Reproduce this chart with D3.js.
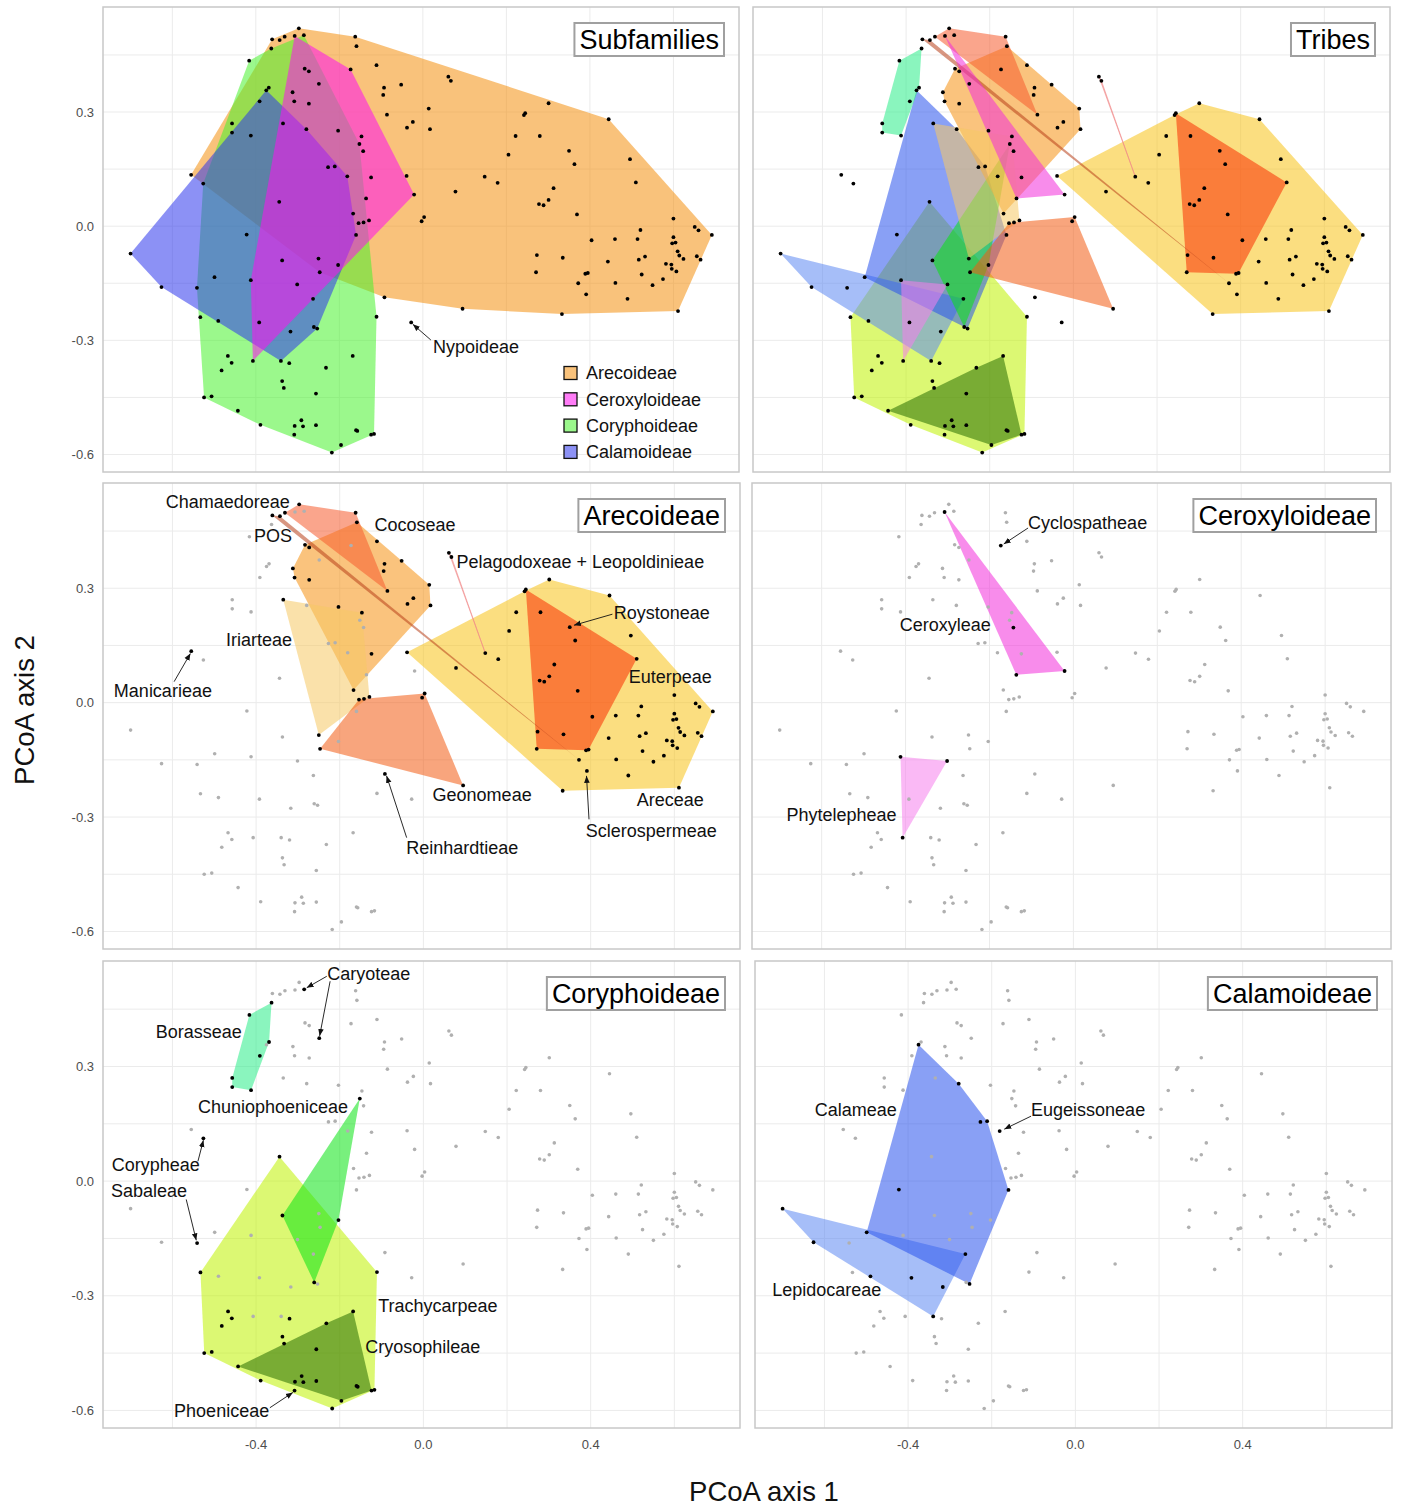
<!DOCTYPE html>
<html>
<head>
<meta charset="utf-8">
<script src="https://cdn.jsdelivr.net/npm/d3@7"></script>
<style>
body { margin: 0; background: #fff; }
text { font-family: "Liberation Sans", Arial, sans-serif; }
</style>
</head>
<body>
<div id="svg"></div>
<script>
var width = 1401;
var height = 1507;

// PCoA scores: [axis 1, axis 2, tribe]
var arecoideaePts = [
    [-0.331, 0.498, "Chamaedoreae"], [-0.297, 0.520, "Chamaedoreae"], [-0.162, 0.498, "Chamaedoreae"], [-0.086, 0.293, "Chamaedoreae"],
    [-0.361, 0.491, "POS"], [-0.343, 0.489, "POS"], [0.372, -0.150, "POS"],
    [-0.283, 0.414, "Cocoseae"], [-0.273, 0.407, "Cocoseae"], [-0.312, 0.352, "Cocoseae"], [-0.308, 0.328, "Cocoseae"],
    [-0.273, 0.322, "Cocoseae"], [-0.159, 0.473, "Cocoseae"], [-0.111, 0.423, "Cocoseae"], [-0.093, 0.364, "Cocoseae"],
    [-0.095, 0.345, "Cocoseae"], [-0.052, 0.372, "Cocoseae"], [-0.024, 0.274, "Cocoseae"], [-0.038, 0.259, "Cocoseae"],
    [0.014, 0.309, "Cocoseae"], [0.017, 0.255, "Cocoseae"], [-0.203, 0.251, "Cocoseae"], [-0.124, 0.128, "Cocoseae"],
    [-0.167, 0.033, "Cocoseae"],
    [-0.335, 0.270, "Iriarteae"], [-0.147, 0.236, "Iriarteae"], [-0.129, 0.015, "Iriarteae"], [-0.250, -0.085, "Iriarteae"],
    [-0.154, 0.008, "Geonomeae"], [-0.142, 0.010, "Geonomeae"], [-0.247, -0.121, "Geonomeae"], [-0.003, 0.013, "Geonomeae"],
    [0.003, 0.024, "Geonomeae"], [0.095, -0.217, "Geonomeae"],
    [-0.555, 0.135, "Manicarieae"],
    [-0.092, -0.187, "Reinhardtieae"],
    [0.061, 0.393, "Pelagodoxeae + Leopoldinieae"], [0.067, 0.382, "Pelagodoxeae + Leopoldinieae"], [0.148, 0.130, "Pelagodoxeae + Leopoldinieae"],
    [0.350, 0.198, "Roystoneae"],
    [0.391, -0.179, "Sclerospermeae"],
    [0.245, 0.297, "Euterpeae"], [0.280, 0.237, "Euterpeae"], [0.363, 0.163, "Euterpeae"], [0.510, 0.115, "Euterpeae"],
    [0.313, 0.100, "Euterpeae"], [0.278, 0.058, "Euterpeae"], [0.289, 0.055, "Euterpeae"], [0.301, 0.069, "Euterpeae"],
    [0.369, 0.031, "Euterpeae"], [0.404, -0.037, "Euterpeae"], [0.273, -0.076, "Euterpeae"], [0.271, -0.121, "Euterpeae"],
    [0.335, -0.083, "Euterpeae"], [0.389, -0.125, "Euterpeae"], [0.395, -0.123, "Euterpeae"],
    [-0.039, 0.132, "Areceae"], [0.301, 0.323, "Areceae"], [0.242, 0.292, "Areceae"], [0.222, 0.237, "Areceae"],
    [0.205, 0.188, "Areceae"], [0.445, 0.281, "Areceae"], [0.496, 0.176, "Areceae"], [0.179, 0.114, "Areceae"],
    [0.078, 0.091, "Areceae"], [0.600, 0.020, "Areceae"], [0.521, -0.010, "Areceae"], [0.651, -0.002, "Areceae"],
    [0.660, -0.011, "Areceae"], [0.692, -0.023, "Areceae"], [0.460, -0.034, "Areceae"], [0.514, -0.034, "Areceae"],
    [0.600, -0.029, "Areceae"], [0.597, -0.045, "Areceae"], [0.605, -0.043, "Areceae"], [0.610, -0.066, "Areceae"],
    [0.614, -0.077, "Areceae"], [0.624, -0.086, "Areceae"], [0.656, -0.079, "Areceae"], [0.665, -0.088, "Areceae"],
    [0.443, -0.093, "Areceae"], [0.517, -0.088, "Areceae"], [0.532, -0.080, "Areceae"], [0.582, -0.099, "Areceae"],
    [0.595, -0.101, "Areceae"], [0.596, -0.112, "Areceae"], [0.607, -0.119, "Areceae"], [0.524, -0.127, "Areceae"],
    [0.575, -0.139, "Areceae"], [0.550, -0.155, "Areceae"], [0.461, -0.149, "Areceae"], [0.490, -0.191, "Areceae"],
    [0.333, -0.231, "Areceae"], [0.611, -0.223, "Areceae"]
];

var ceroxyloideaePts = [
    [-0.307, 0.500, "Ceroxyleae"], [-0.143, 0.197, "Ceroxyleae"], [-0.136, 0.073, "Ceroxyleae"], [-0.021, 0.083, "Ceroxyleae"],
    [-0.173, 0.412, "Cyclospatheae"],
    [-0.412, -0.142, "Phytelepheae"], [-0.301, -0.153, "Phytelepheae"], [-0.407, -0.354, "Phytelepheae"]
];

var coryphoideaePts = [
    [-0.416, 0.435, "Borasseae"], [-0.363, 0.467, "Borasseae"], [-0.369, 0.364, "Borasseae"], [-0.391, 0.328, "Borasseae"],
    [-0.412, 0.238, "Borasseae"], [-0.457, 0.246, "Borasseae"], [-0.457, 0.270, "Borasseae"],
    [-0.285, 0.502, "Caryoteae"], [-0.249, 0.374, "Caryoteae"],
    [-0.152, 0.216, "Chuniophoeniceae"], [-0.203, -0.102, "Chuniophoeniceae"], [-0.261, -0.265, "Chuniophoeniceae"], [-0.337, -0.090, "Chuniophoeniceae"],
    [-0.526, 0.112, "Corypheae"],
    [-0.541, -0.162, "Sabaleae"],
    [-0.344, 0.064, "Trachycarpeae"], [-0.111, -0.238, "Trachycarpeae"], [-0.117, -0.546, "Trachycarpeae"], [-0.218, -0.595, "Trachycarpeae"],
    [-0.524, -0.450, "Trachycarpeae"], [-0.533, -0.239, "Trachycarpeae"], [-0.467, -0.341, "Trachycarpeae"], [-0.458, -0.359, "Trachycarpeae"],
    [-0.482, -0.379, "Trachycarpeae"], [-0.320, -0.360, "Trachycarpeae"], [-0.337, -0.407, "Trachycarpeae"], [-0.333, -0.425, "Trachycarpeae"],
    [-0.506, -0.447, "Trachycarpeae"], [-0.389, -0.522, "Trachycarpeae"],
    [-0.443, -0.485, "Cryosophileae"], [-0.168, -0.341, "Cryosophileae"], [-0.124, -0.548, "Cryosophileae"], [-0.196, -0.575, "Cryosophileae"],
    [-0.232, -0.372, "Cryosophileae"], [-0.256, -0.440, "Cryosophileae"], [-0.307, -0.525, "Cryosophileae"], [-0.291, -0.510, "Cryosophileae"],
    [-0.287, -0.526, "Cryosophileae"], [-0.256, -0.523, "Cryosophileae"], [-0.157, -0.538, "Cryosophileae"], [-0.160, -0.536, "Cryosophileae"],
    [-0.308, -0.548, "Phoeniceae"]
];

var calamoideaePts = [
    [-0.375, 0.357, "Calameae"], [-0.279, 0.255, "Calameae"], [-0.227, 0.155, "Calameae"], [-0.211, 0.157, "Calameae"],
    [-0.160, -0.023, "Calameae"], [-0.422, -0.022, "Calameae"], [-0.499, -0.134, "Calameae"], [-0.253, -0.269, "Calameae"],
    [-0.700, -0.072, "Lepidocareae"], [-0.626, -0.160, "Lepidocareae"], [-0.263, -0.191, "Lepidocareae"], [-0.490, -0.249, "Lepidocareae"],
    [-0.392, -0.253, "Lepidocareae"], [-0.317, -0.277, "Lepidocareae"], [-0.340, -0.354, "Lepidocareae"],
    [-0.181, 0.131, "Eugeissoneae"]
];

var nypoideaePts = [
    [-0.028, -0.253, "Nypoideae"]
];

var subfamilies = ["Arecoideae", "Ceroxyloideae", "Coryphoideae", "Calamoideae"];
var subfamilyColors = ["#F4900F", "#FF10F0", "#49F22E", "#2E37ED"];
var subfamilyDrawOrder = ["Arecoideae", "Coryphoideae", "Calamoideae", "Ceroxyloideae"];

var tribes = ["Trachycarpeae", "Cryosophileae", "Lepidocareae", "Calameae", "Chuniophoeniceae", "Borasseae",
    "Caryoteae", "Corypheae", "Sabaleae", "Phoeniceae", "Eugeissoneae",
    "Areceae", "Euterpeae", "Cocoseae", "Chamaedoreae", "Iriarteae", "Geonomeae", "POS",
    "Pelagodoxeae + Leopoldinieae", "Manicarieae", "Reinhardtieae", "Roystoneae", "Sclerospermeae",
    "Ceroxyleae", "Phytelepheae", "Cyclospatheae", "Nypoideae"];
var tribeColors = ["#BFF200", "#286E00", "#5D89F2", "#2852ED", "#09E413", "#2AED89",
    "#2FC05A", "#4CD070", "#60D060", "#3A8A20", "#4060E0",
    "#F8C318", "#F92D00", "#F69213", "#F65B2E", "#F6C864", "#F35B13", "#B8401A",
    "#F08888", "#F0A040", "#F07040", "#F06020", "#F0A020",
    "#F22EDB", "#F680ED", "#E050D0", "#999999"];

var xDomain = [-0.766, 0.757];
var yDomain = [-0.646, 0.576];
var xTicks = [-0.4, 0, 0.4];
var xTickLabels = ["-0.4", "0.0", "0.4"];
var yTicks = [-0.6, -0.3, 0, 0.3];
var yTickLabels = ["-0.6", "-0.3", "0.0", "0.3"];
var xGrid = [-0.6, -0.4, -0.2, 0, 0.2, 0.4, 0.6];
var yGrid = [-0.6, -0.45, -0.3, -0.15, 0, 0.15, 0.3, 0.45];

var panels = [
    {title: "Subfamilies", mode: "sub", x0: 103, x1: 739, y0: 7, y1: 472, yLab: true, xLab: false},
    {title: "Tribes", mode: "tribe", x0: 753, x1: 1390, y0: 7, y1: 472, yLab: false, xLab: false},
    {title: "Arecoideae", mode: "Arecoideae", x0: 103, x1: 740, y0: 483, y1: 949, yLab: true, xLab: false},
    {title: "Ceroxyloideae", mode: "Ceroxyloideae", x0: 752, x1: 1391, y0: 483, y1: 949, yLab: false, xLab: false},
    {title: "Coryphoideae", mode: "Coryphoideae", x0: 103, x1: 740, y0: 961, y1: 1428, yLab: true, xLab: true},
    {title: "Calamoideae", mode: "Calamoideae", x0: 755, x1: 1392, y0: 961, y1: 1428, yLab: false, xLab: true}
];

// tribe labels: text start + centre (data units), optional arrow [x1, y1, x2, y2]
var annotations = [
    {panel: "Subfamilies", text: "Nypoideae", x: 0.024, y: -0.318, arrow: [0.019, -0.299, -0.024, -0.258]},
    {panel: "Arecoideae", text: "Chamaedoreae", x: -0.616, y: 0.527},
    {panel: "Arecoideae", text: "POS", x: -0.405, y: 0.438},
    {panel: "Arecoideae", text: "Cocoseae", x: -0.117, y: 0.466},
    {panel: "Arecoideae", text: "Pelagodoxeae + Leopoldinieae", x: 0.079, y: 0.369},
    {panel: "Arecoideae", text: "Roystoneae", x: 0.455, y: 0.236, arrow: [0.452, 0.232, 0.360, 0.203]},
    {panel: "Arecoideae", text: "Iriarteae", x: -0.472, y: 0.165},
    {panel: "Arecoideae", text: "Manicarieae", x: -0.740, y: 0.031, arrow: [-0.596, 0.055, -0.557, 0.129]},
    {panel: "Arecoideae", text: "Euterpeae", x: 0.491, y: 0.068},
    {panel: "Arecoideae", text: "Geonomeae", x: 0.022, y: -0.241},
    {panel: "Arecoideae", text: "Areceae", x: 0.510, y: -0.254},
    {panel: "Arecoideae", text: "Sclerospermeae", x: 0.388, y: -0.335, arrow: [0.396, -0.306, 0.390, -0.192]},
    {panel: "Arecoideae", text: "Reinhardtieae", x: -0.041, y: -0.380, arrow: [-0.040, -0.354, -0.088, -0.192]},
    {panel: "Ceroxyloideae", text: "Cyclospatheae", x: -0.108, y: 0.472, arrow: [-0.108, 0.458, -0.166, 0.416]},
    {panel: "Ceroxyloideae", text: "Ceroxyleae", x: -0.414, y: 0.204},
    {panel: "Ceroxyloideae", text: "Phytelepheae", x: -0.684, y: -0.293},
    {panel: "Coryphoideae", text: "Caryoteae", x: -0.230, y: 0.544, arrow: [-0.231, 0.536, -0.279, 0.506]},
    {panel: "Coryphoideae", text: "", x: -0.230, y: 0.544, arrow: [-0.223, 0.523, -0.248, 0.380]},
    {panel: "Coryphoideae", text: "Borasseae", x: -0.640, y: 0.392},
    {panel: "Coryphoideae", text: "Chuniophoeniceae", x: -0.539, y: 0.194},
    {panel: "Coryphoideae", text: "Corypheae", x: -0.745, y: 0.044, arrow: [-0.539, 0.052, -0.526, 0.107]},
    {panel: "Coryphoideae", text: "Sabaleae", x: -0.747, y: -0.026, arrow: [-0.567, -0.048, -0.543, -0.155]},
    {panel: "Coryphoideae", text: "Trachycarpeae", x: -0.108, y: -0.327},
    {panel: "Coryphoideae", text: "Cryosophileae", x: -0.139, y: -0.434},
    {panel: "Coryphoideae", text: "Phoeniceae", x: -0.596, y: -0.602, arrow: [-0.367, -0.593, -0.312, -0.553]},
    {panel: "Calamoideae", text: "Calameae", x: -0.623, y: 0.188},
    {panel: "Calamoideae", text: "Eugeissoneae", x: -0.106, y: 0.188, arrow: [-0.106, 0.170, -0.170, 0.136]},
    {panel: "Calamoideae", text: "Lepidocareae", x: -0.725, y: -0.285}
];

var allPoints = [];
[["Arecoideae", arecoideaePts], ["Ceroxyloideae", ceroxyloideaePts], ["Coryphoideae", coryphoideaePts],
 ["Calamoideae", calamoideaePts], ["Nypoideae", nypoideaePts]].forEach(function(s) {
    s[1].forEach(function(d) {
        allPoints.push({x: d[0], y: d[1], tribe: d[2], sub: s[0]});
    });
});

var tribeSub = {};
allPoints.forEach(function(d) { tribeSub[d.tribe] = d.sub; });

var svg = d3.select('#svg').append('svg')
    .attr('width', width)
    .attr('height', height);

svg.append('rect').attr('width', width).attr('height', height).attr('fill', '#fff');

svg.append('defs').append('marker')
    .attr('id', 'arrow')
    .attr('viewBox', '0 0 10 10')
    .attr('refX', 10).attr('refY', 5)
    .attr('markerWidth', 7).attr('markerHeight', 7)
    .attr('markerUnits', 'userSpaceOnUse')
    .attr('orient', 'auto')
    .append('path')
    .attr('d', 'M0,1L10,5L0,9Z')
    .attr('fill', '#111');

panels.forEach(function(p) {
    var x = d3.scaleLinear().domain(xDomain).range([p.x0, p.x1]);
    var y = d3.scaleLinear().domain(yDomain).range([p.y1, p.y0]);
    var g = svg.append('g');

    // grid
    g.selectAll(null).data(xGrid).enter().append('line')
        .attr('x1', function(d) { return x(d); }).attr('x2', function(d) { return x(d); })
        .attr('y1', p.y0).attr('y2', p.y1)
        .attr('stroke', '#EBEBEB').attr('stroke-width', 1);
    g.selectAll(null).data(yGrid).enter().append('line')
        .attr('y1', function(d) { return y(d); }).attr('y2', function(d) { return y(d); })
        .attr('x1', p.x0).attr('x2', p.x1)
        .attr('stroke', '#EBEBEB').attr('stroke-width', 1);

    // hulls
    var groups;
    if (p.mode === 'sub') {
        groups = subfamilyDrawOrder.map(function(s) {
            return {color: subfamilyColors[subfamilies.indexOf(s)],
                    pts: allPoints.filter(function(d) { return d.sub === s; })};
        });
    } else {
        groups = tribes.filter(function(t) {
            return p.mode === 'tribe' || tribeSub[t] === p.mode;
        }).map(function(t) {
            return {color: tribeColors[tribes.indexOf(t)],
                    pts: allPoints.filter(function(d) { return d.tribe === t; })};
        });
    }
    groups.forEach(function(gr) {
        var hull = d3.polygonHull(gr.pts.map(function(d) { return [x(d.x), y(d.y)]; }));
        if (!hull) return;
        var thin = Math.abs(d3.polygonArea(hull)) < 300;
        g.append('path')
            .attr('d', 'M' + hull.join('L') + 'Z')
            .attr('fill', gr.color)
            .attr('fill-opacity', 0.55)
            .attr('stroke', thin ? gr.color : 'none')
            .attr('stroke-opacity', 0.7)
            .attr('stroke-width', 0.8);
    });

    // points
    var isBlack = function(d) {
        return p.mode === 'sub' || p.mode === 'tribe' || d.sub === p.mode;
    };
    var pts = allPoints.slice().sort(function(a, b) { return isBlack(a) - isBlack(b); });
    g.selectAll(null).data(pts).enter().append('circle')
        .attr('cx', function(d) { return x(d.x); })
        .attr('cy', function(d) { return y(d.y); })
        .attr('r', function(d) { return isBlack(d) ? 1.9 : 1.8; })
        .attr('fill', function(d) { return isBlack(d) ? '#000' : '#B0B0B0'; });

    // frame
    g.append('rect')
        .attr('x', p.x0).attr('y', p.y0)
        .attr('width', p.x1 - p.x0).attr('height', p.y1 - p.y0)
        .attr('fill', 'none').attr('stroke', '#C8C8C8').attr('stroke-width', 1.5);

    // tick labels
    if (p.yLab) {
        g.selectAll(null).data(yTicks).enter().append('text')
            .attr('x', p.x0 - 9)
            .attr('y', function(d) { return y(d); })
            .attr('dy', '0.35em')
            .attr('text-anchor', 'end')
            .attr('font-size', 13)
            .attr('fill', '#4D4D4D')
            .text(function(d, i) { return yTickLabels[i]; });
    }
    if (p.xLab) {
        g.selectAll(null).data(xTicks).enter().append('text')
            .attr('x', function(d) { return x(d); })
            .attr('y', p.y1 + 16)
            .attr('dy', '0.35em')
            .attr('text-anchor', 'middle')
            .attr('font-size', 13)
            .attr('fill', '#4D4D4D')
            .text(function(d, i) { return xTickLabels[i]; });
    }

    // annotations
    annotations.filter(function(a) { return a.panel === p.title; }).forEach(function(a) {
        if (a.arrow) {
            g.append('line')
                .attr('x1', x(a.arrow[0])).attr('y1', y(a.arrow[1]))
                .attr('x2', x(a.arrow[2])).attr('y2', y(a.arrow[3]))
                .attr('stroke', '#111').attr('stroke-width', 0.9)
                .attr('marker-end', 'url(#arrow)');
        }
        if (a.text) {
            g.append('text')
                .attr('x', x(a.x)).attr('y', y(a.y))
                .attr('dy', '0.35em')
                .attr('font-size', 18)
                .attr('fill', '#111')
                .text(a.text);
        }
    });

    // title box
    var tt = g.append('text')
        .attr('font-size', 27)
        .attr('fill', '#000')
        .attr('text-anchor', 'end')
        .attr('x', p.x1 - 20)
        .attr('y', p.y0 + 33)
        .attr('dy', '0.35em')
        .text(p.title);
    var tw = tt.node().getComputedTextLength();
    g.insert('rect', function() { return tt.node(); })
        .attr('x', p.x1 - 20 - tw - 5)
        .attr('y', p.y0 + 16)
        .attr('width', tw + 10)
        .attr('height', 33)
        .attr('fill', '#fff')
        .attr('stroke', '#A0A0A0')
        .attr('stroke-width', 2);

    // legend in the subfamily panel
    if (p.mode === 'sub') {
        var leg = g.append('g').attr('transform', 'translate(' + (p.x0 + 461) + ',' + (p.y0 + 366) + ')');
        subfamilies.forEach(function(s, i) {
            leg.append('rect')
                .attr('x', 0).attr('y', i * 26.3 - 6.5)
                .attr('width', 13).attr('height', 13)
                .attr('fill', '#fff');
            leg.append('rect')
                .attr('x', 0).attr('y', i * 26.3 - 6.5)
                .attr('width', 13).attr('height', 13)
                .attr('fill', subfamilyColors[i]).attr('fill-opacity', 0.55)
                .attr('stroke', '#111').attr('stroke-width', 1.3);
            leg.append('text')
                .attr('x', 22).attr('y', i * 26.3)
                .attr('dy', '0.35em')
                .attr('font-size', 18)
                .attr('fill', '#111')
                .text(s);
        });
    }
});

// axis titles
svg.append('text')
    .attr('transform', 'translate(24,710) rotate(-90)')
    .attr('text-anchor', 'middle')
    .attr('dy', '0.35em')
    .attr('font-size', 27.5)
    .attr('fill', '#111')
    .text('PCoA axis 2');

svg.append('text')
    .attr('x', 764)
    .attr('y', 1491)
    .attr('text-anchor', 'middle')
    .attr('dy', '0.35em')
    .attr('font-size', 27.5)
    .attr('fill', '#111')
    .text('PCoA axis 1');
</script>
</body>
</html>
